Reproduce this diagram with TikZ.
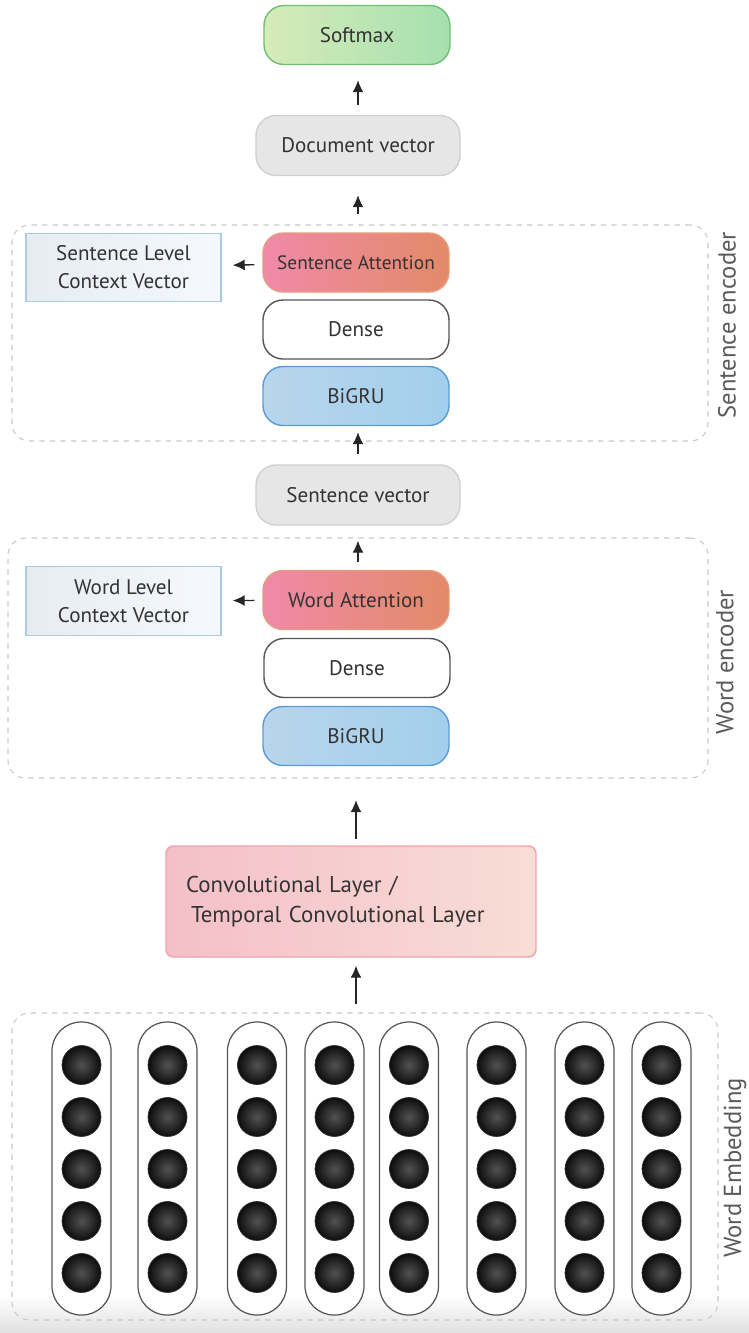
\documentclass[tikz,border=0pt]{standalone}
\usepackage{fontspec}
\setmainfont{PT Sans}
\usetikzlibrary{arrows.meta}

\definecolor{txtgray}{HTML}{333333}
\definecolor{lblgray}{HTML}{5A5A5A}
\definecolor{grpline}{HTML}{C8C8C8}
\definecolor{softleft}{HTML}{D6EBB8}
\definecolor{softright}{HTML}{A6E0B0}
\definecolor{softline}{HTML}{6FBF73}
\definecolor{vecgray}{HTML}{E6E6E6}
\definecolor{vecline}{HTML}{D0D0D0}
\definecolor{attleft}{HTML}{EF8AA8}
\definecolor{attright}{HTML}{E38A68}
\definecolor{densegray}{HTML}{555555}
\definecolor{gruleft}{HTML}{B8D5EC}
\definecolor{gruright}{HTML}{A2CFEC}
\definecolor{gruline}{HTML}{5B9BD5}
\definecolor{ctxleft}{HTML}{E6ECF2}
\definecolor{ctxright}{HTML}{F5F9FD}
\definecolor{ctxline}{HTML}{A9CBE6}
\definecolor{convleft}{HTML}{F4BFC8}
\definecolor{convright}{HTML}{F8DDD6}
\definecolor{convline}{HTML}{F0A3AB}

\begin{document}
\begin{tikzpicture}[
    layer/.style={rounded corners=0.4cm, minimum width=3.72cm, minimum height=1.18cm,
      text=txtgray, font=\fontsize{12}{14}\selectfont, line width=0.8pt, inner sep=0pt},
    softbox/.style={layer, left color=softleft, right color=softright, draw=softline},
    vecbox/.style={layer, minimum width=4.08cm, minimum height=1.2cm, fill=vecgray, draw=vecline},
    attbox/.style={layer, left color=attleft, right color=attright, draw=attright!85},
    densebox/.style={layer, fill=white, draw=densegray},
    grubox/.style={layer, left color=gruleft, right color=gruright, draw=gruline},
    ctxbox/.style={draw=ctxline, left color=ctxleft, right color=ctxright, line width=0.8pt,
      minimum width=3.9cm, minimum height=1.37cm, align=center, inner sep=0pt,
      text=txtgray, font=\fontsize{12}{16}\selectfont},
    convbox/.style={draw=convline, left color=convleft, right color=convright, line width=0.8pt,
      rounded corners=0.15cm, minimum width=7.4cm, minimum height=2.22cm, text width=6.6cm,
      align=left, inner sep=0pt, text=txtgray, font=\fontsize{13}{17}\selectfont},
    groupbox/.style={draw=grpline, dash pattern=on 3pt off 3pt, rounded corners=0.35cm,
      line width=0.6pt, inner sep=0pt},
    grouplabel/.style={rotate=90, text=lblgray, font=\fontsize{14}{16}\selectfont},
    capsule/.style={draw=densegray, fill=white, rounded corners=0.58cm, minimum width=1.18cm,
      minimum height=5.86cm, line width=0.7pt},
    unit/.style={circle, minimum size=0.78cm, inner sep=0pt, inner color=black!68,
      outer color=black!95, draw=black!80},
    flow/.style={-{Latex[length=2.4mm,width=2.2mm]}, line width=0.8pt, black!85}
  ]
  \useasboundingbox (0,0) rectangle (14.98,-26.66);
  \shade[top color=white, bottom color=black!12] (0,-25.9) rectangle (14.98,-26.66);

  % group frames
  \node[groupbox, minimum width=13.92cm, minimum height=4.32cm] (sentgroup) at (7.2,-6.66) {};
  \node[groupbox, minimum width=14.0cm, minimum height=4.8cm] (wordgroup) at (7.16,-13.16) {};
  \node[groupbox, minimum width=14.12cm, minimum height=6.14cm] (embgroup) at (7.3,-23.33) {};
  \node[grouplabel] (sentlabel) at (14.54,-6.5) {Sentence encoder};
  \node[grouplabel] (wordlabel) at (14.5,-13.24) {Word encoder};
  \node[grouplabel] (emblabel) at (14.7,-23.36) {Word Embedding};

  % document level
  \node[softbox] (softmax) at (7.14,-0.70) {Softmax};
  \node[vecbox] (docvec) at (7.16,-2.91) {Document vector};

  % sentence encoder
  \node[ctxbox] (sentctx) at (2.47,-5.35) {Sentence Level\\Context Vector};
  \node[attbox, font=\fontsize{11}{13}\selectfont] (sentatt) at (7.12,-5.25) {Sentence Attention};
  \node[densebox] (sentdense) at (7.12,-6.59) {Dense};
  \node[grubox] (sentgru) at (7.12,-7.92) {BiGRU};
  \node[vecbox] (sentvec) at (7.16,-9.9) {Sentence vector};

  % word encoder
  \node[ctxbox] (wordctx) at (2.47,-12.02) {Word Level\\Context Vector};
  \node[attbox] (wordatt) at (7.12,-12.0) {Word Attention};
  \node[densebox] (worddense) at (7.14,-13.36) {Dense};
  \node[grubox] (wordgru) at (7.12,-14.72) {BiGRU};

  % convolution
  \node[convbox] (conv) at (7.02,-18.03) {Convolutional Layer /\\\hspace{0.1cm}Temporal Convolutional Layer};

  % word embedding
  \node[capsule] (col1) at (1.63,-23.37) {};
  \node[capsule] (col2) at (3.35,-23.37) {};
  \node[capsule] (col3) at (5.14,-23.37) {};
  \node[capsule] (col4) at (6.69,-23.37) {};
  \node[capsule] (col5) at (8.18,-23.37) {};
  \node[capsule] (col6) at (9.93,-23.37) {};
  \node[capsule] (col7) at (11.69,-23.37) {};
  \node[capsule] (col8) at (13.23,-23.37) {};
  \foreach \c in {1,...,8}
    \foreach \r/\y in {1/-21.3,2/-22.34,3/-23.38,4/-24.42,5/-25.46}
      \node[unit] (u\c\r) at (col\c |- 0,\y) {};

  \begin{scope}[flow]
    \draw[shorten <=0.2cm, shorten >=0.3cm] (docvec.north) to (docvec.north |- softmax.south);
    \draw[shorten <=0.36cm, shorten >=0.38cm] (sentatt.north -| docvec) to (docvec.south);
    \draw[shorten <=0.2cm, shorten >=0.12cm] (sentvec.north) to (sentvec.north |- sentgru.south);
    \draw[shorten <=0.16cm, shorten >=0.3cm] (wordatt.north -| sentvec) to (sentvec.south);
    \draw[shorten <=0.12cm, shorten >=0.68cm] (conv.north -| wordgru) to (wordgru.south);
    \draw[shorten <=0.16cm, shorten >=0.16cm] (embgroup.north -| wordgru) to (conv.south -| wordgru);
    \draw[shorten <=0.16cm, shorten >=0.22cm] (sentatt) to (sentctx);
    \draw[shorten <=0.16cm, shorten >=0.22cm] (wordatt) to (wordctx);
  \end{scope}
\end{tikzpicture}
\end{document}
